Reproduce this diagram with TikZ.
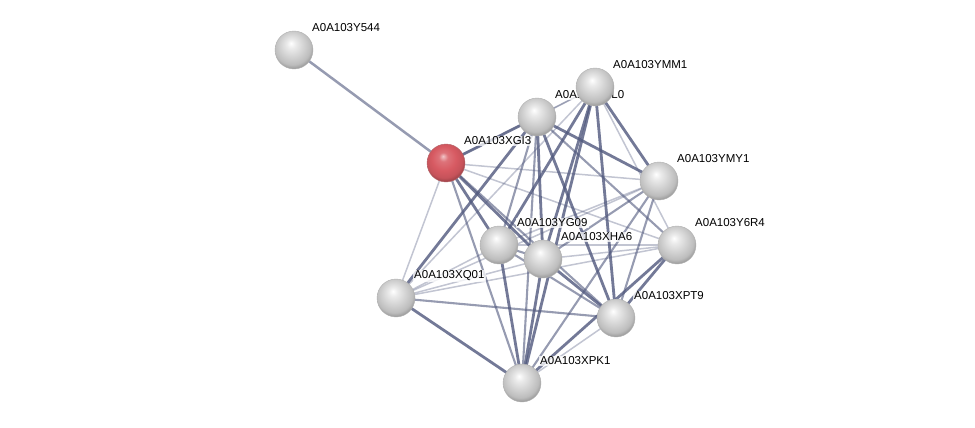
\documentclass[tikz,border=0pt]{standalone}
\usepackage{fontspec}
\setmainfont{Liberation Sans}
\usetikzlibrary{shadings,calc}
\definecolor{edgec}{RGB}{80,88,125}
\definecolor{redbase}{RGB}{215,90,98}
\pgfdeclareradialshading{greysph}{\pgfpoint{-4bp}{9bp}}{color(0bp)=(white); color(6bp)=(white!92!black); color(16bp)=(white!82!black); color(24bp)=(white!74!black); color(28bp)=(white!62!black); color(50bp)=(white!62!black)}
\pgfdeclareradialshading{redsph}{\pgfpoint{-4bp}{9bp}}{color(0bp)=(redbase!35!white); color(6bp)=(redbase!85!white); color(16bp)=(redbase); color(24bp)=(redbase!92!black); color(28bp)=(redbase!75!black); color(50bp)=(redbase!75!black)}
\tikzset{
  x=1pt,y=-1pt,
  ball/.style={circle,minimum size=38pt,inner sep=0pt,draw=gray!60,line width=0.4pt,shading=greysph},
  redball/.style={ball,shading=redsph,draw=redbase!60!gray},
  lbl/.style={anchor=west,font=\fontsize{11.5}{12}\selectfont,fill=white,fill opacity=0.75,text opacity=1,inner sep=1pt},
  ethin/.style={draw=edgec,line width=1.5pt,draw opacity=0.35},
  emed/.style={draw=edgec,line width=2.1pt,draw opacity=0.6},
  ethick/.style={draw=edgec,line width=2.8pt,draw opacity=0.8},
}
\begin{document}
\begin{tikzpicture}
\useasboundingbox (0,0) rectangle (975,428);
\coordinate (Y5) at (294,50);
\coordinate (G) at (446,163);
\coordinate (N0) at (537,117);
\coordinate (M) at (595,87);
\coordinate (Y) at (659,181);
\coordinate (R) at (677,245);
\coordinate (G9) at (499,245);
\coordinate (H) at (543,259);
\coordinate (Q) at (396,298);
\coordinate (T) at (616,318);
\coordinate (K) at (522,383);
% edges
\draw[emed,line width=2.5pt] (Y5) -- (G);
\draw[ethick] (G) -- (N0);
\draw[ethin] (G) -- (M);
\draw[ethin] (G) -- (Y);
\draw[ethin] (G) -- (R);
\draw[ethick] (G) -- (G9);
\draw[ethick] (G) -- (H);
\draw[ethin] (G) -- (Q);
\draw[emed] (G) -- (T);
\draw[emed] (G) -- (K);
\draw[ethin] (N0) -- (M);
\draw[ethick] (N0) -- (Y);
\draw[emed] (N0) -- (R);
\draw[emed] (N0) -- (G9);
\draw[ethick] (N0) -- (H);
\draw[ethick] (N0) -- (Q);
\draw[ethick] (N0) -- (T);
\draw[emed] (N0) -- (K);
\draw[ethick] (M) -- (Y);
\draw[ethin] (M) -- (R);
\draw[ethick] (M) -- (G9);
\draw[ethick] (M) -- (H);
\draw[ethick] (M) -- (T);
\draw[ethick] (M) -- (K);
\draw[ethin] (M) -- (Q);
\draw[ethin] (Y) -- (G9);
\draw[emed] (Y) -- (H);
\draw[ethin] (Y) -- (Q);
\draw[emed] (Y) -- (T);
\draw[emed] (Y) -- (K);
\draw[ethin] (R) -- (G9);
\draw[ethin] (R) -- (H);
\draw[ethin] (R) -- (Q);
\draw[ethick] (R) -- (T);
\draw[ethick] (R) -- (K);
\draw[emed] (G9) -- (H);
\draw[ethin] (G9) -- (Q);
\draw[emed] (G9) -- (T);
\draw[ethick] (G9) -- (K);
\draw[ethin] (H) -- (Q);
\draw[ethick] (H) -- (T);
\draw[ethick] (H) -- (K);
\draw[emed] (Q) -- (T);
\draw[ethick] (Q) -- (K);
\draw[ethin] (T) -- (K);
% labels
\node[lbl] (lY5) at ($(Y5)+(17,-22)$) {A0A103Y544};
\node[lbl] (lG) at ($(G)+(17,-22)$) {A0A103XGI3};
\node[lbl] (lN0) at ($(N0)+(17,-22)$) {A0A103YKL0};
\node[lbl] (lM) at ($(M)+(17,-22)$) {A0A103YMM1};
\node[lbl] (lY) at ($(Y)+(17,-22)$) {A0A103YMY1};
\node[lbl] (lR) at ($(R)+(17,-22)$) {A0A103Y6R4};
\node[lbl] (lG9) at ($(G9)+(17,-22)$) {A0A103YG09};
\node[lbl] (lH) at ($(H)+(17,-22)$) {A0A103XHA6};
\node[lbl] (lQ) at ($(Q)+(17,-22)$) {A0A103XQ01};
\node[lbl] (lT) at ($(T)+(17,-22)$) {A0A103XPT9};
\node[lbl] (lK) at ($(K)+(17,-22)$) {A0A103XPK1};
% nodes
\node[ball] (nY5) at (Y5) {};
\node[redball] (nG) at (G) {};
\node[ball] (nN0) at (N0) {};
\node[ball] (nM) at (M) {};
\node[ball] (nY) at (Y) {};
\node[ball] (nR) at (R) {};
\node[ball] (nG9) at (G9) {};
\node[ball] (nH) at (H) {};
\node[ball] (nQ) at (Q) {};
\node[ball] (nT) at (T) {};
\node[ball] (nK) at (K) {};
\end{tikzpicture}
\end{document}
